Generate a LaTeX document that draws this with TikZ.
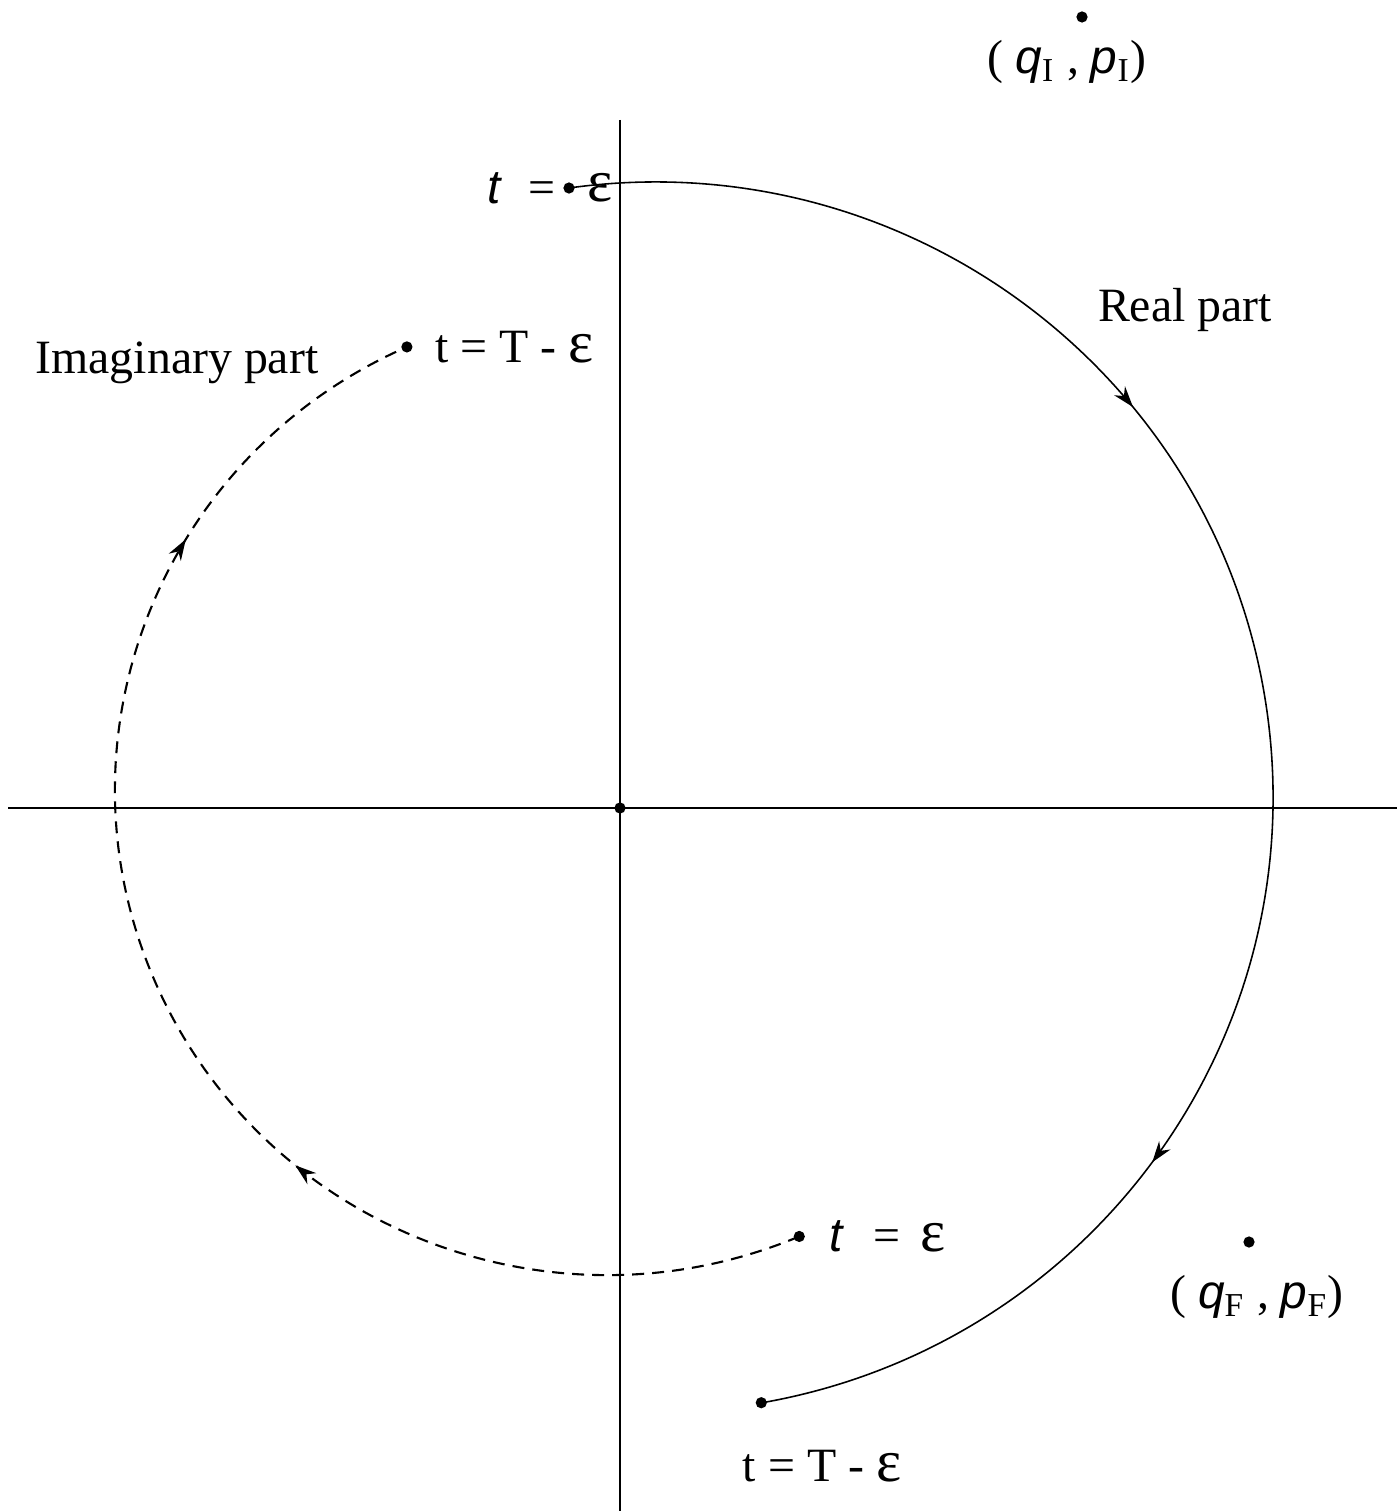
\documentclass[tikz,border=0pt]{standalone}
\usepackage{fontspec}
\setmainfont{Liberation Serif}
\newfontfamily\sfitfam{Liberation Sans}
\usetikzlibrary{positioning,arrows.meta,decorations.markings}
\newcommand{\tvar}{{\sfitfam\itshape t}}
\newcommand{\veps}{{\fontsize{17}{18}\selectfont ε}}
\newcommand{\qsub}[2]{{\sfitfam\itshape #1}\textsubscript{#2}}

\begin{document}
\begin{tikzpicture}[
  every node/.style={font=\fontsize{13.6}{16}\selectfont},
  dot/.style={circle, fill, inner sep=0pt, minimum size=3.2pt},
  lbl/.style={inner sep=1pt},
  axis/.style={line width=0.6pt},
  realarc/.style={line width=0.45pt, postaction={decorate}, decoration={markings,
      mark=at position 0.33 with {\arrow{Stealth[length=6pt,width=4pt]}},
      mark=at position 0.755 with {\arrow{Stealth[length=6pt,width=4pt]}}}},
  imagarc/.style={line width=0.6pt, dash pattern=on 3.4pt off 2.3pt, postaction={decorate}, decoration={markings,
      mark=at position 0.35 with {\arrow{Stealth[length=6pt,width=4pt]}},
      mark=at position 0.805 with {\arrow{Stealth[length=6pt,width=4pt]}}}},
]
\useasboundingbox (0,0) rectangle (13.97,-15.11);

% ── axes ──
\coordinate (xl) at (0.08,-8.08);
\coordinate (xr) at (13.97,-8.08);
\coordinate (yt) at (6.20,-1.20);
\coordinate (yb) at (6.20,-15.11);
\draw[axis] (xl) -- (xr);
\draw[axis] (yt) -- (yb);
\node[dot] (O) at (6.20,-8.08) {};

% ── real part ──
\coordinate (CR) at (6.55,-8.00);
\node[dot] (r0) at ([shift={(98:6.18)}]CR) {};
\node[dot] (r1) at ([shift={(-80:6.12)}]CR) {};
\draw[realarc] (r0.center) arc[start angle=98, end angle=-80, x radius=6.18, y radius=6.15];

\node[lbl, left=0.03cm of r0] (r0l) {\tvar\hspace{0.28cm}=};
\node[lbl, right=0.08cm of r0] (r0r) {\veps};
\node[lbl] (r1l) at (8.22,-14.66) {t = T - \veps};
\node[lbl] (rname) at (11.85,-3.10) {Real part};

% ── imaginary part ──
\coordinate (CI) at (6.07,-7.90);
\node[dot] (i1) at ([shift={(293:4.92 and 4.85)}]CI) {};
\node[dot] (i0) at ([shift={(114:4.92 and 4.85)}]CI) {};
\draw[imagarc] (i1.center) arc[start angle=293, end angle=114, x radius=4.92, y radius=4.85];

\node[lbl, right=0.18cm of i0] (i0l) {t = T - \veps};
\node[lbl, right=0.2cm of i1] (i1l) {\tvar\hspace{0.3cm}=\hspace{0.2cm}\veps};
\node[lbl] (iname) at (1.77,-3.63) {Imaginary part};

% ── end points ──
\node[dot] (qI) at (10.82,-0.17) {};
\node[lbl] (qIl) at (10.67,-0.62) {( \qsub{q}{I} , \qsub{p}{I})};
\node[dot] (qF) at (12.49,-12.42) {};
\node[lbl] (qFl) at (12.57,-12.97) {( \qsub{q}{F} , \qsub{p}{F})};

\end{tikzpicture}
\end{document}
